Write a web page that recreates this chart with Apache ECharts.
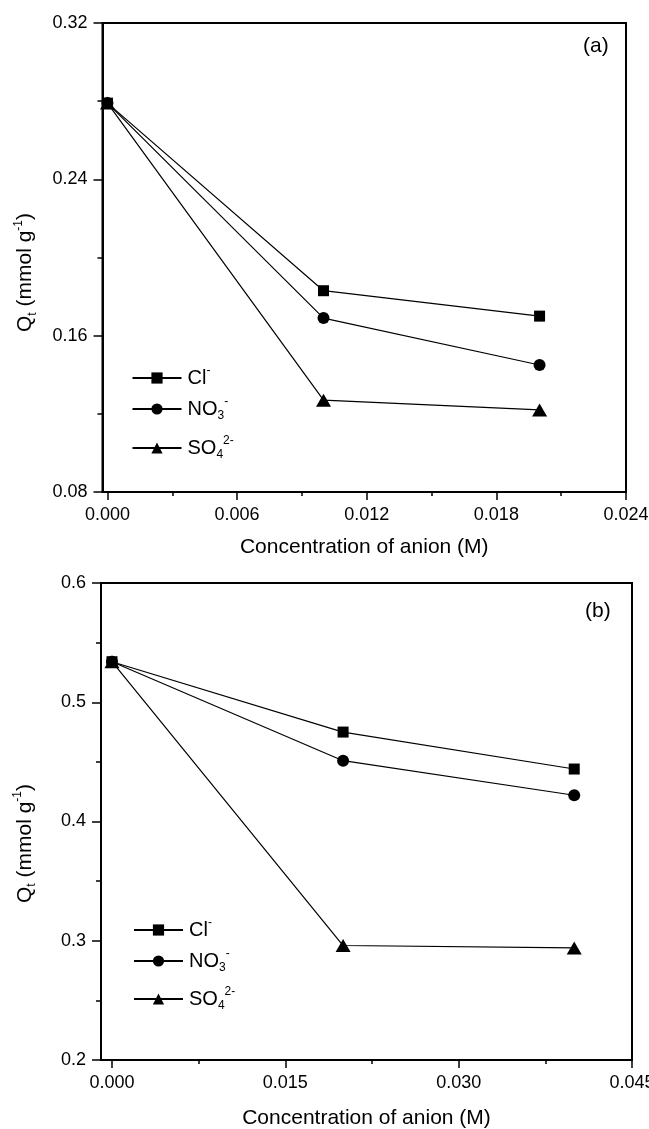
<!DOCTYPE html>
<html>
<head>
<meta charset="utf-8">
<script src="https://cdn.jsdelivr.net/npm/echarts@6/dist/echarts.min.js"></script>
<style>
  html, body { margin: 0; padding: 0; background: #fff; }
  #chart { width: 649px; height: 1129px; }
</style>
</head>
<body>
<div id="chart"></div>
<script>
// Panel (a): anion concentration (M) vs uptake Qt (mmol/g)
const concA = [0, 0.010, 0.020];
const clA   = [0.279, 0.183, 0.170];
const no3A  = [0.279, 0.169, 0.145];
const so4A  = [0.279, 0.127, 0.122];

// Panel (b)
const concB = [0, 0.020, 0.040];
const clB   = [0.534, 0.475, 0.444];
const no3B  = [0.534, 0.451, 0.422];
const so4B  = [0.534, 0.296, 0.294];

// Axis ticks
const xMajorA = [0, 0.006, 0.012, 0.018, 0.024];
const xMinorA = [0.003, 0.009, 0.015, 0.021];
const xMajorB = [0, 0.015, 0.030, 0.045];
const xMinorB = [0.0075, 0.0225, 0.0375];

const seriesNames = ['Cl', 'NO3', 'SO4'];
const legendLabels = {
  'Cl':  '{b|Cl}{sup|-}',
  'NO3': '{b|NO}{sub|3}{sup|-}',
  'SO4': '{b|SO}{sub|4}{sup|2-}'
};
const symbols = { 'Cl': 'rect', 'NO3': 'circle', 'SO4': 'triangle' };
const symbolSizes = { 'Cl': 11, 'NO3': 12, 'SO4': [15, 13] };

const FONT = 'Liberation Sans, Arial, sans-serif';
const richText = {
  b:   { fontSize: 20, fontFamily: FONT, color: '#000', lineHeight: 26 },
  sub: { fontSize: 12, fontFamily: FONT, color: '#000', verticalAlign: 'bottom' },
  sup: { fontSize: 12, fontFamily: FONT, color: '#000', verticalAlign: 'top' }
};
const nameRich = {
  b:   { fontSize: 21, fontFamily: FONT, color: '#000', lineHeight: 26 },
  sub: { fontSize: 12, fontFamily: FONT, color: '#000', verticalAlign: 'bottom' },
  sup: { fontSize: 12, fontFamily: FONT, color: '#000', verticalAlign: 'top' }
};

function pairs(xs, ys) { return xs.map((x, i) => [x, ys[i]]); }

function makeSeries(name, xs, ys, idx) {
  return {
    name: name + (idx === 0 ? '' : ' '),
    type: 'line',
    xAxisIndex: idx * 2,
    yAxisIndex: idx,
    data: pairs(xs, ys),
    symbol: symbols[name],
    symbolSize: symbolSizes[name],
    showAllSymbol: true,
    color: '#000',
    lineStyle: { color: '#000', width: 1.2 },
    itemStyle: { color: '#000' },
    emphasis: { disabled: true },
    animation: false
  };
}

function xAxes(gridIndex, min, max, major, minor, nameGap) {
  return [
    {
      type: 'value', gridIndex, min, max, position: 'bottom',
      name: 'Concentration of anion (M)',
      nameLocation: 'middle', nameGap,
      nameTextStyle: { fontSize: 21, fontFamily: FONT, color: '#000' },
      axisLine: { onZero: false, lineStyle: { color: '#000', width: 2 } },
      axisTick: { customValues: major, length: 8, lineStyle: { color: '#000', width: 1.5 } },
      axisLabel: {
        customValues: major, margin: 14, fontSize: 18, fontFamily: FONT, color: '#000',
        formatter: v => v.toFixed(3)
      },
      splitLine: { show: false }
    },
    {
      type: 'value', gridIndex, min, max, position: 'bottom',
      axisLine: { show: false, onZero: false },
      axisTick: { customValues: minor, length: 4, lineStyle: { color: '#000', width: 1.5 } },
      axisLabel: { show: false },
      splitLine: { show: false }
    }
  ];
}

function yAxis(gridIndex, min, max, interval, digits, nameGap, shift) {
  return {
    type: 'value', gridIndex, min, max, interval, position: 'left',
    name: '{b|Q}{sub|t}{b| (mmol g}{sup|-1}{b|)}',
    nameLocation: 'middle', nameGap, nameRotate: 90,
    nameTextStyle: { rich: nameRich, padding: [0, shift, 0, 0] },
    axisLine: { onZero: false, lineStyle: { color: '#000', width: 2 } },
    axisTick: { length: 9, lineStyle: { color: '#000', width: 1.5 } },
    minorTick: { show: true, splitNumber: 2, length: 5, lineStyle: { color: '#000', width: 1.5 } },
    axisLabel: { margin: 15, fontSize: 18, fontFamily: FONT, color: '#000', formatter: v => v.toFixed(digits) },
    splitLine: { show: false }
  };
}

function legendItem(name, left, top) {
  return {
    data: [name], left, top, orient: 'vertical', padding: 0,
    itemWidth: 49, itemHeight: 14, itemGap: 0,
    selectedMode: false,
    formatter: n => legendLabels[n.trim()],
    textStyle: { rich: richText, padding: [0, 0, 0, 1] }
  };
}

const chart = echarts.init(document.getElementById('chart'), null, { renderer: 'canvas' });

const series = [];
seriesNames.forEach((n, i) => series.push(makeSeries(n, concA, [clA, no3A, so4A][i], 0)));
seriesNames.forEach((n, i) => series.push(makeSeries(n, concB, [clB, no3B, so4B][i], 1)));

chart.setOption({
  backgroundColor: '#fff',
  animation: false,
  title: [
    { text: '(a)', left: 583, top: 36, textStyle: { fontSize: 21, fontWeight: 'normal', fontFamily: FONT, color: '#000' }, padding: 0 },
    { text: '(b)', left: 585, top: 601, textStyle: { fontSize: 21, fontWeight: 'normal', fontFamily: FONT, color: '#000' }, padding: 0 }
  ],
  grid: [
    { left: 102.5, top: 23, width: 523.5, height: 469, outerBoundsMode: 'none', show: true, borderColor: '#000', borderWidth: 2 },
    { left: 101, top: 583, width: 531, height: 477, outerBoundsMode: 'none', show: true, borderColor: '#000', borderWidth: 2 }
  ],
  xAxis: [
    ...xAxes(0, -0.00023, 0.024, xMajorA, xMinorA, 45),
    ...xAxes(1, -0.00095, 0.045, xMajorB, xMinorB, 48)
  ],
  yAxis: [
    yAxis(0, 0.08, 0.32, 0.08, 2, 64, 30),
    yAxis(1, 0.2, 0.6, 0.1, 1, 63, 44)
  ],
  legend: [
    legendItem('Cl', 131.5, 365),
    legendItem('NO3', 131.5, 396),
    legendItem('SO4', 131.5, 435),
    legendItem('Cl ', 133, 917),
    legendItem('NO3 ', 133, 948),
    legendItem('SO4 ', 133, 986)
  ],
  series
});
</script>
</body>
</html>
